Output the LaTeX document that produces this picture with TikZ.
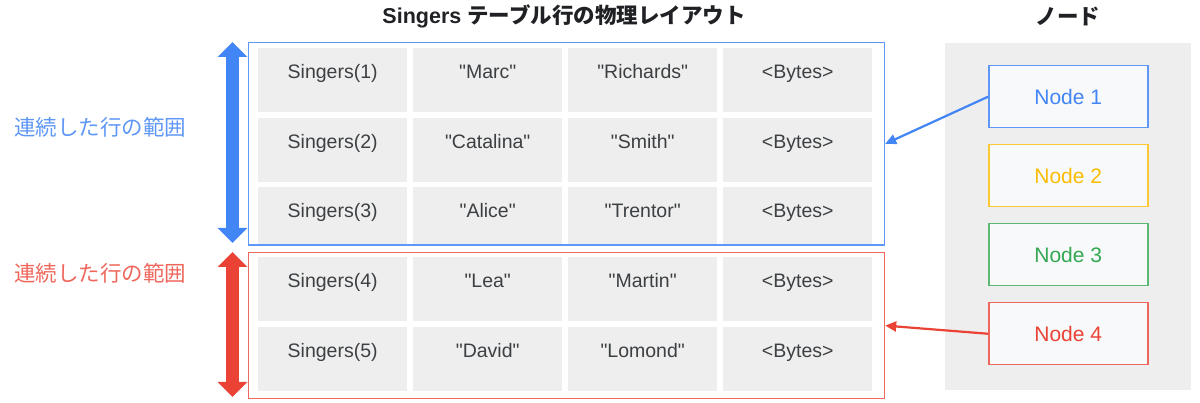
\documentclass[tikz,border=0pt]{standalone}
\usepackage{fontspec}
\setmainfont{Liberation Sans}[Ligatures=TeXOff]
\newfontfamily\jp{Noto Sans CJK JP}
\usetikzlibrary{arrows.meta}
\definecolor{cellfill}{HTML}{EEEEEE}
\definecolor{panelfill}{HTML}{EEEEEE}
\definecolor{nodefill}{HTML}{F8F9FA}
\definecolor{txtgray}{HTML}{3C4043}
\definecolor{titlegray}{HTML}{202124}
\definecolor{gblue}{HTML}{4285F4}
\definecolor{gbluel}{HTML}{5E97F6}
\definecolor{gred}{HTML}{EA4335}
\definecolor{gredl}{HTML}{EE675C}
\definecolor{gyellow}{HTML}{FBBC04}
\definecolor{gyellowl}{HTML}{FCC934}
\definecolor{ggreen}{HTML}{34A853}
\definecolor{ggreenl}{HTML}{5BB974}
\tikzset{
  cell/.style={fill=cellfill, draw=none, minimum width=149pt, anchor=north west, inner sep=0pt},
  celltext/.style={anchor=base, text=txtgray, font=\fontsize{19.5}{22}\selectfont, inner sep=0pt},
  rangebox/.style={draw, line width=1.2pt, fill=none, anchor=north west, inner sep=0pt},
  srvnode/.style={fill=nodefill, line width=1.5pt, minimum width=159pt, minimum height=62pt, anchor=north west, inner sep=0pt, font=\fontsize{21}{24}\selectfont},
  bigarrow/.style={line width=13pt, {Triangle[width=29pt,length=15pt]}-{Triangle[width=29pt,length=15pt]}},
  link/.style={line width=2.2pt, -{Triangle[width=10pt,length=11pt]}},
  heading/.style={font=\fontsize{21.5}{24}\selectfont\bfseries, text=titlegray, inner sep=0pt},
  rangelabel/.style={font=\jp\fontsize{21.5}{24}\selectfont, inner sep=0pt},
}
\begin{document}
\begin{tikzpicture}[x=1pt,y=-1pt]
\useasboundingbox (0,0) rectangle (1200,403);
% headings
\node[heading] (title) at (564,16) {Singers {\jp テーブル行の物理レイアウト}};
\node[heading] (nodetitle) at (1068,16) {\jp ノード};
% cells
\foreach \r/\top/\h/\a/\b/\c in {1/48/64/Singers(1)/"Marc"/"Richards",
                                  2/118/64/Singers(2)/"Catalina"/"Smith",
                                  3/187/58/Singers(3)/"Alice"/"Trentor",
                                  4/257/64/Singers(4)/"Lea"/"Martin",
                                  5/327/64/Singers(5)/"David"/"Lomond"}{
  \node[cell, minimum height=\h pt] (c\r a) at (258,\top) {};
  \node[cell, minimum height=\h pt] (c\r b) at (413,\top) {};
  \node[cell, minimum height=\h pt] (c\r c) at (568,\top) {};
  \node[cell, minimum height=\h pt] (c\r d) at (723,\top) {};
  \node[celltext] (t\r a) at ([yshift=-31pt]c\r a.north) {\a};
  \node[celltext] (t\r b) at ([yshift=-31pt]c\r b.north) {\b};
  \node[celltext] (t\r c) at ([yshift=-31pt]c\r c.north) {\c};
  \node[celltext] (t\r d) at ([yshift=-31pt]c\r d.north) {<Bytes>};
}
% range boxes
\node[rangebox, draw=gbluel, minimum width=636.5pt, minimum height=202.5pt] (bluebox) at (247.5,42) {};
\node[rangebox, draw=gredl, minimum width=636.5pt, minimum height=146pt] (redbox) at (247.5,252) {};
% big arrows
\coordinate (btop) at (232.5,42);
\coordinate (bbot) at (232.5,243);
\coordinate (rtop) at (232.5,252);
\coordinate (rbot) at (232.5,397);
\draw[bigarrow, draw=gblue, fill=gblue] (btop) -- (bbot);
\draw[bigarrow, draw=gred, fill=gred] (rtop) -- (rbot);
% labels
\node[rangelabel, text=gbluel] (blab) at (100,127) {連続した行の範囲};
\node[rangelabel, text=gredl] (rlab) at (100,273) {連続した行の範囲};
% node panel
\node[fill=panelfill, minimum width=246pt, minimum height=347pt, anchor=north west, inner sep=0pt] (panel) at (945,43) {};
\node[srvnode, draw=gbluel, text=gblue] (n1) at (988,65) {Node 1};
\node[srvnode, draw=gyellowl, text=gyellow] (n2) at (988,144) {Node 2};
\node[srvnode, draw=ggreenl, text=ggreen] (n3) at (988,223) {Node 3};
\node[srvnode, draw=gredl, text=gred] (n4) at (988,302) {Node 4};
% links
\draw[link, draw=gblue, fill=gblue] (n1.west) -- (bluebox.east);
\draw[link, draw=gred, fill=gred] (n4.west) -- (redbox.east);
\end{tikzpicture}
\end{document}
